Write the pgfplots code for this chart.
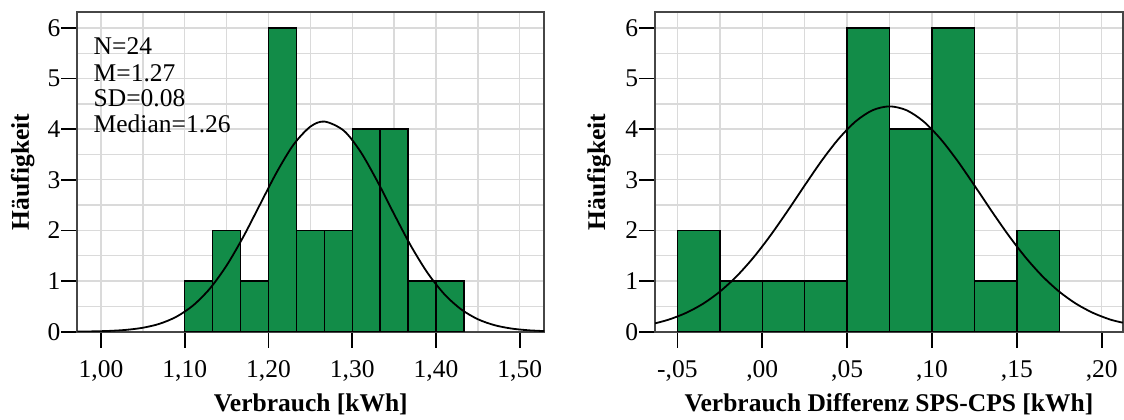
\documentclass[border=0pt]{standalone}
\usepackage{fontspec}
\setmainfont{Liberation Serif}
\usepackage{pgfplots}
\pgfplotsset{compat=1.18}
\definecolor{bargreen}{RGB}{18,140,72}
\definecolor{gridgray}{RGB}{218,218,218}
\definecolor{framegray}{RGB}{70,70,70}
\pgfplotsset{
  myhist/.style={
    scale only axis,
    height=159.7pt,
    ymin=0, ymax=6.308,
    ytick={0,1,2,3,4,5,6},
    yticklabels={0,1,2,3,4,5,6},
    minor y tick num=1,
    grid=both,
    grid style={gridgray, line width=0.7pt},
    minor grid style={gridgray, line width=0.7pt},
    tick align=outside,
    major tick length=8pt,
    minor tick length=0pt,
    xtick pos=bottom, ytick pos=left,
    axis line style={framegray, line width=0.9pt},
    major tick style={black, line width=0.8pt},
    tick label style={font=\fontsize{12.75}{13}\selectfont},
    yticklabel style={inner sep=0.3pt},
    xticklabel style={yshift=-3pt},
    label style={font=\bfseries\fontsize{12.75}{13}\selectfont},
    /pgf/number format/assume math mode=true,
  }
}
\begin{document}
\begin{tikzpicture}
\useasboundingbox (0,0) rectangle (562pt,209.5pt);
% ---------------- left panel
\begin{axis}[myhist,
  at={(38.65pt,43.65pt)}, anchor=south west,
  width=233.5pt,
  xmin=0.9717, xmax=1.5293,
  xtick={1.00,1.10,1.20,1.30,1.40,1.50},
  xticklabels={1{,}00,1{,}10,1{,}20,1{,}30,1{,}40,1{,}50},
  minor x tick num=1,
  xlabel={Verbrauch [kWh]},
  ylabel={Häufigkeit},
  xlabel style={at={(axis description cs:0.5,-0.2505)}, anchor=base},
  ylabel style={at={(axis description cs:-0.117,0.5)}, anchor=center},
]
\addplot[ybar interval, fill=bargreen, draw=black, line width=0.7pt] coordinates {
(1.1000,1) (1.1333,2) (1.1667,1) (1.2000,6) (1.2333,2) (1.2667,2)
(1.3000,4) (1.3333,4) (1.3667,1) (1.4000,1) (1.4333,1)};
\addplot[black, line width=0.9pt, smooth, no marks] coordinates {
(0.9717,0.0022) (0.99,0.0064) (1.01,0.0158) (1.03,0.0364) (1.05,0.0782)
(1.07,0.157) (1.09,0.2955) (1.11,0.519) (1.13,0.852) (1.15,1.308)
(1.17,1.877) (1.19,2.517) (1.21,3.155) (1.23,3.697) (1.25,4.050)
(1.267,4.15) (1.29,3.969) (1.31,3.551) (1.33,2.969) (1.35,2.321)
(1.37,1.696) (1.39,1.159) (1.41,0.740) (1.43,0.4416) (1.45,0.2463)
(1.47,0.1284) (1.49,0.0626) (1.51,0.0285) (1.5293,0.0122)};
\node[anchor=base west, inner sep=0pt, font=\fontsize{12.75}{13}\selectfont]
  at (rel axis cs:0.0343,0.8685) {N=24};
\node[anchor=base west, inner sep=0pt, font=\fontsize{12.75}{13}\selectfont]
  at (rel axis cs:0.0343,0.7849) {M=1.27};
\node[anchor=base west, inner sep=0pt, font=\fontsize{12.75}{13}\selectfont]
  at (rel axis cs:0.0343,0.7044) {SD=0.08};
\node[anchor=base west, inner sep=0pt, font=\fontsize{12.75}{13}\selectfont]
  at (rel axis cs:0.0343,0.6230) {Median=1.26};
\end{axis}
% ---------------- right panel
\begin{axis}[myhist,
  at={(327.5pt,43.65pt)}, anchor=south west,
  width=233.9pt,
  xmin=-0.0632, xmax=0.21244,
  xtick={-0.05,0,0.05,0.10,0.15,0.20},
  xticklabels={-{,}05,{,}00,{,}05,{,}10,{,}15,{,}20},
  minor x tick num=1,
  xlabel={Verbrauch Differenz SPS-CPS [kWh]},
  ylabel={Häufigkeit},
  xlabel style={at={(axis description cs:0.5,-0.2505)}, anchor=base},
  ylabel style={at={(axis description cs:-0.1196,0.5)}, anchor=center},
]
\addplot[ybar interval, fill=bargreen, draw=black, line width=0.7pt] coordinates {
(-0.050,2) (-0.025,1) (0.000,1) (0.025,1) (0.050,6) (0.075,4)
(0.100,6) (0.125,1) (0.150,2) (0.175,2)};
\addplot[black, line width=0.9pt, smooth, no marks] coordinates {
(-0.0632,0.165) (-0.055,0.2401) (-0.045,0.3698) (-0.035,0.5503) (-0.025,0.791)
(-0.015,1.098) (-0.005,1.473) (0.005,1.909) (0.015,2.389) (0.025,2.889)
(0.035,3.376) (0.045,3.809) (0.055,4.153) (0.065,4.374) (0.075,4.45)
(0.085,4.374) (0.095,4.153) (0.105,3.809) (0.115,3.376) (0.125,2.889)
(0.135,2.389) (0.145,1.909) (0.155,1.473) (0.165,1.098) (0.175,0.791)
(0.185,0.5503) (0.195,0.3698) (0.205,0.2401) (0.21244,0.178)};
\end{axis}
\end{tikzpicture}
\end{document}
